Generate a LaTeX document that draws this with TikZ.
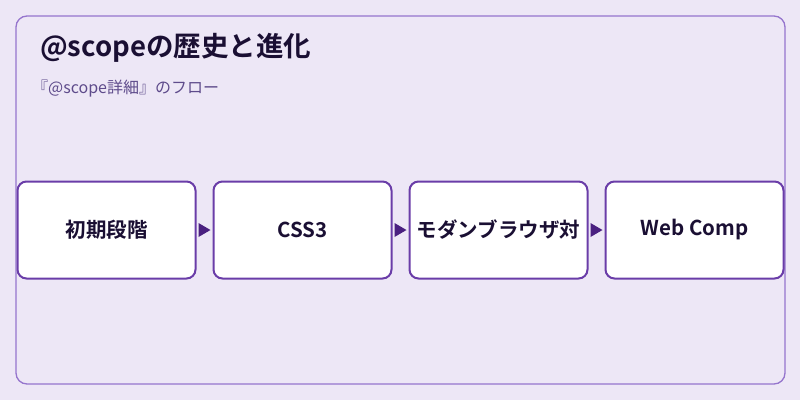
\documentclass[tikz,border=0pt]{standalone}
\usepackage{fontspec}
\setmainfont{Noto Sans CJK JP}
\newfontfamily\jpb{Noto Sans CJK JP Bold}
\definecolor{bgc}{HTML}{EDE7F6}
\definecolor{edgec}{HTML}{9575CD}
\definecolor{boxc}{HTML}{6A3DA8}
\definecolor{arrc}{HTML}{4A2080}
\definecolor{txtc}{HTML}{1A0F33}
\definecolor{subc}{HTML}{5E4B8B}
\begin{document}
\begin{tikzpicture}[x=1pt,y=-1pt,
  stepbox/.style={draw=boxc,line width=2pt,fill=white,rounded corners=9pt,minimum width=178pt,minimum height=97pt,inner sep=0pt,font=\jpb\fontsize{20.5}{24}\selectfont,text=txtc},
  tri/.style={fill=arrc}]
\fill[bgc] (0,0) rectangle (800,400);
\useasboundingbox (0,0) rectangle (800,400);
\draw[edgec,line width=1.3pt,rounded corners=11pt] (16,16) rectangle (785,384);
\node[anchor=west,text=txtc,font=\jpb\fontsize{27.5}{32}\selectfont,inner sep=0pt] (title) at (40,48) {@scopeの歴史と進化};
\node[anchor=west,text=subc,font=\fontsize{16}{19}\selectfont,inner sep=0pt] (sub) at (32,89) {『@scope詳細』のフロー};
\node[stepbox] (a) at (106.5,230) {\raisebox{-2pt}{初期段階}};
\node[stepbox] (b) at (302.5,230) {\raisebox{-2pt}{CSS3}};
\node[stepbox] (c) at (498.5,230) {\raisebox{-2pt}{モダンブラウザ対}};
\node[stepbox] (d) at (694.5,230) {\raisebox{-2pt}{Web Comp}};
\foreach \u/\v in {a/b,b/c,c/d}{
  \fill[arrc] ([xshift=2pt]\u.east) ++(0,-7) -- ++(12,7) -- ++(-12,7) -- cycle;
}
\end{tikzpicture}
\end{document}
